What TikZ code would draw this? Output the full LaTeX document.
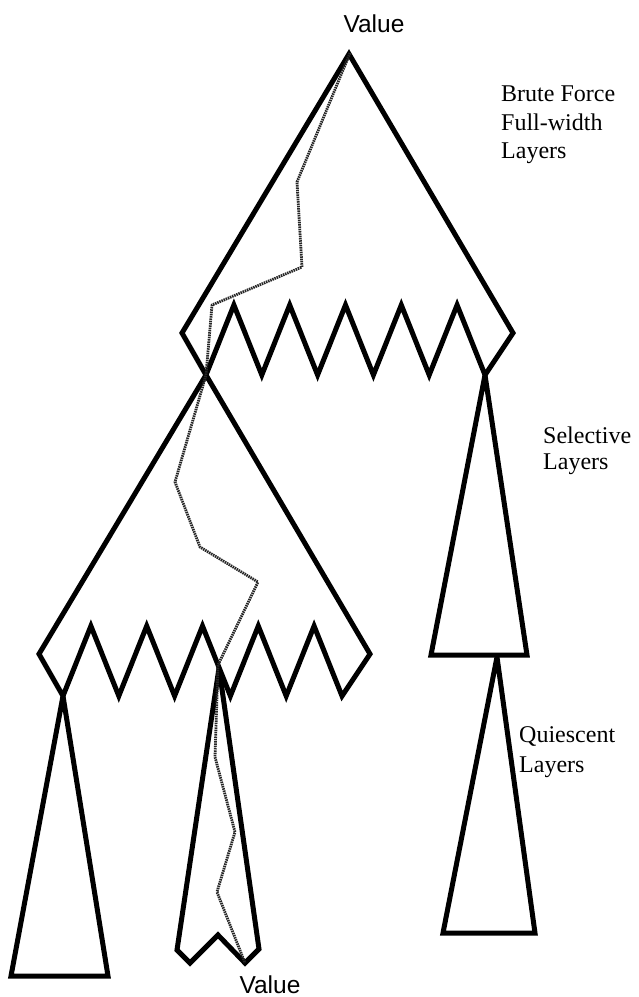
\documentclass[tikz,border=0pt]{standalone}
\usepackage{fontspec}
\setmainfont{Liberation Serif}
\newfontfamily\labelsans{Liberation Sans}
\begin{document}
\begin{tikzpicture}[x=1pt,y=-1pt,
  outline/.style={line width=5pt, line join=miter, miter limit=3, black},
  trace/.style={line width=2.8pt, dash pattern=on 1.5pt off 0.8pt, black!85, line join=round},
  layertext/.style={anchor=base west, font=\fontsize{24}{27}\selectfont, inner sep=0pt},
  valuetext/.style={anchor=base, font=\labelsans\fontsize{24.5}{27}\selectfont, inner sep=0pt},
  pics/fanout/.style={code={
    \draw[outline] (0,0) -- (-167,279) -- (-143,321)
      -- (-115.1,251) -- (-87.2,321) -- (-59.3,251) -- (-31.4,321)
      -- (-3.5,251) -- (24.4,321) -- (52.3,251) -- (80.2,321)
      -- (108.1,251) -- (136,321) -- (164,279) -- cycle;
  }}]
\useasboundingbox (0,0) rectangle (638,997);

% full-width layers: two fan-out blocks
\coordinate (rootapex) at (349,54);
\coordinate (subapex) at (206,375);
\pic at (rootapex) {fanout};
\pic at (subapex) {fanout};

% key points of the lower parts
\coordinate (selapex) at (485,375);
\coordinate (quiapex) at (497,657);
\coordinate (leftapex) at (63,696);
\coordinate (midapex) at (219,668);

% selective and quiescent layers
\draw[outline] (selapex) -- (431,655) -- (527,655) -- cycle;
\draw[outline] (quiapex) -- (443,933) -- (535,933) -- cycle;
\draw[outline] (leftapex) -- (11,976) -- (108,976) -- cycle;
\draw[outline] (midapex) -- (177,950) -- (190,963) -- (218,935)
  -- (245,963) -- (259,949) -- cycle;

% principal variation
\coordinate (pvend) at (245,963);
\draw[trace] (350,53) -- (297,182) -- (302,267) -- (212,305) -- (subapex)
  -- (175,482) -- (200,547) -- (258,582) -- (218,665) -- (215,757)
  -- (235,832) -- (217,892) -- (pvend);

% labels
\node[valuetext] (topvalue) at (374,32) {Value};
\node[valuetext] (bottomvalue) at (270,993) {Value};
\node[layertext] (brute) at (501,101) {Brute Force};
\node[layertext] (fullw) at (501,130) {Full-width};
\node[layertext] (layersa) at (501,158) {Layers};
\node[layertext] (selective) at (543,443) {Selective};
\node[layertext] (layersb) at (543,469) {Layers};
\node[layertext] (quiescent) at (519,742) {Quiescent};
\node[layertext] (layersc) at (519,772) {Layers};
\end{tikzpicture}
\end{document}
